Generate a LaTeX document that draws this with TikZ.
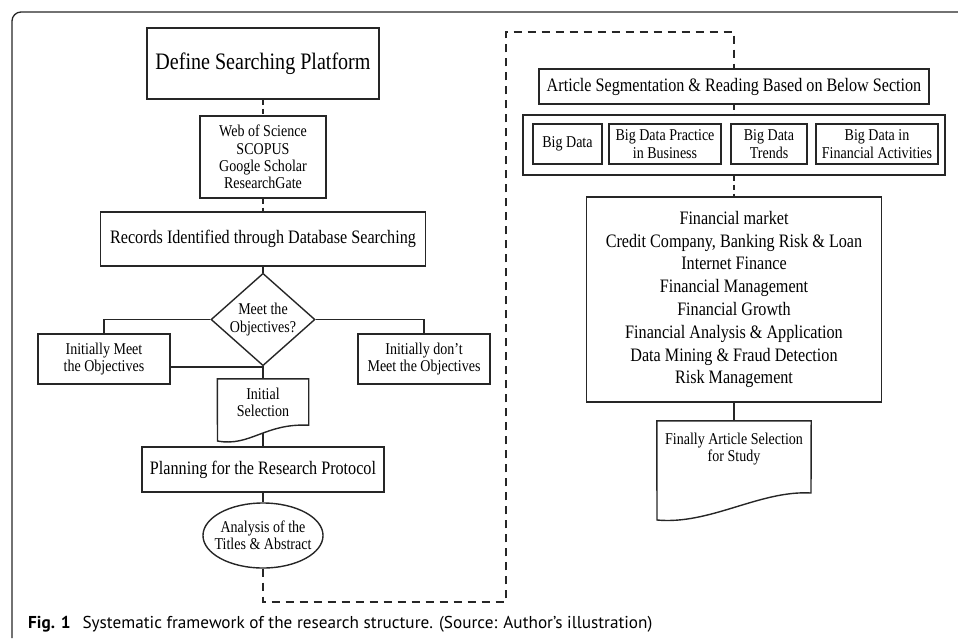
\documentclass[tikz,border=0pt]{standalone}
\usepackage{fontspec}
\setmainfont{Liberation Serif}[FakeStretch=0.85]
\newfontfamily\capfont{PT Sans}
\usetikzlibrary{shapes.geometric}

\begin{document}
\begin{tikzpicture}[x=1pt,y=-1pt]
		\tikzset{box/.style = {draw=black!85, line width=1.4pt, rectangle, inner sep=0pt, align=center}}
		\tikzset{smalltext/.style = {font=\fontsize{16.5}{17.3}\selectfont}}
		\tikzset{midtext/.style = {font=\fontsize{19}{22.8}\selectfont}}
		\tikzset{bigtext/.style = {font=\fontsize{23.6}{26}\selectfont}}
		\tikzset{decision/.style = {box, diamond, inner sep=-1.5pt}}
		\tikzset{terminal/.style = {box, ellipse, inner xsep=-6pt}}
		\tikzset{docnode/.style = {rectangle, inner sep=0pt, align=center}}
		\tikzset{link/.style = {draw=black!85, line width=1.4pt}}
		\tikzset{dlink/.style = {link, dash pattern=on 5pt off 4pt}}
		\tikzset{backlink/.style = {link, dash pattern=on 8pt off 6pt}}
		
		\useasboundingbox (0,0) rectangle (958,638);
		\draw[black!85, line width=1.3pt, rounded corners=9pt] (12,638) -- (12,12) -- (958,12);
		
		% left column
		\node[box, bigtext, minimum width=232, minimum height=71]  (def)  at (263,  63.5) {Define Searching Platform};
		\node[box, smalltext, minimum width=126, minimum height=82] (web)  at (263, 157)   {Web of Science\\SCOPUS\\Google Scholar\\ResearchGate};
		\node[box, midtext, minimum width=325, minimum height=54]   (rec)  at (263, 239)   {Records Identified through Database Searching};
		\node[decision, smalltext, minimum width=104, minimum height=79] (obj) at (263, 319.5) {Meet the\\Objectives?};
		\node[box, smalltext, minimum width=132, minimum height=50] (meet) at (104, 359)   {Initially Meet\\the Objectives};
		\node[box, smalltext, minimum width=132, minimum height=50] (dont) at (424, 359)   {Initially don’t\\Meet the Objectives};
		\node[docnode, smalltext, minimum width=91, minimum height=46] (sel) at (263, 402) {Initial\\Selection};
		\node[box, midtext, minimum width=242, minimum height=45]   (plan) at (263, 469.5) {Planning for the Research Protocol};
		\node[terminal, smalltext, minimum width=120, minimum height=65] (ana) at (263, 535.5) {Analysis of the\\Titles \& Abstract};
		\draw[link] (sel.north west) -- (sel.north east) -- (sel.south east) .. controls (265,423) and (250,447) .. (217.5,441) -- cycle;
		
		% right column
		\node[box, midtext, minimum width=390, minimum height=35]   (art)  at (734,  86.5) {Article Segmentation \& Reading Based on Below Section};
		\node[box, minimum width=422, minimum height=60]            (grp)  at (734, 145)   {};
		\node[box, smalltext, minimum width=69, minimum height=40]  (bd1)  at (567.5, 144) {Big Data};
		\node[box, smalltext, minimum width=112, minimum height=40] (bd2)  at (665, 144)   {Big Data Practice\\in Business};
		\node[box, smalltext, minimum width=76, minimum height=40]  (bd3)  at (769, 144)   {Big Data\\Trends};
		\node[box, smalltext, minimum width=122, minimum height=40] (bd4)  at (877, 144)   {Big Data in\\Financial Activities};
		\node[box, midtext, minimum width=295, minimum height=205]  (fin)  at (734, 299.5) {Financial market\\Credit Company, Banking Risk \& Loan\\Internet Finance\\Financial Management\\Financial Growth\\Financial Analysis \& Application\\Data Mining \& Fraud Detection\\Risk Management};
		\node[docnode, smalltext, minimum width=154, minimum height=56] (final) at (734, 449) {Finally Article Selection\\for Study};
		\draw[link] (final.north west) -- (final.north east) -- (811,493) .. controls (760,490) and (710,525) .. (657,520) -- cycle;
		
		% connectors
		\coordinate (selwave) at (263, 433);
		\coordinate (lb) at (506, 602);
		\coordinate (lt) at (506, 32);
		\draw[dlink] (def) -- (web);
		\draw[dlink] (web) -- (rec);
		\draw[link] (rec) -- (obj);
		\draw[link] (obj.west) -| (meet.north);
		\draw[link] (obj.east) -| (dont.north);
		\draw[dlink] (obj.south) -- (sel.north);
		\draw[link] ([yshift=-8pt]meet.east) -| (sel.north);
		\draw[link] (selwave) -- (plan);
		\draw[link] (plan) -- (ana);
		\draw[backlink] (ana) |- (lb) -- (lt) -| (art);
		\draw[dlink] (art) -- (grp);
		\draw[dlink] (grp) -- (fin);
		\draw[link] (fin) -- (final);
		
		\node[anchor=base west, inner sep=0pt, font=\capfont\fontsize{17.2}{20}\selectfont] (cap) at (28, 628) {\textbf{Fig. 1}\hspace{12pt}Systematic framework of the research structure. (Source: Author’s illustration)};
\end{tikzpicture}
\end{document}
